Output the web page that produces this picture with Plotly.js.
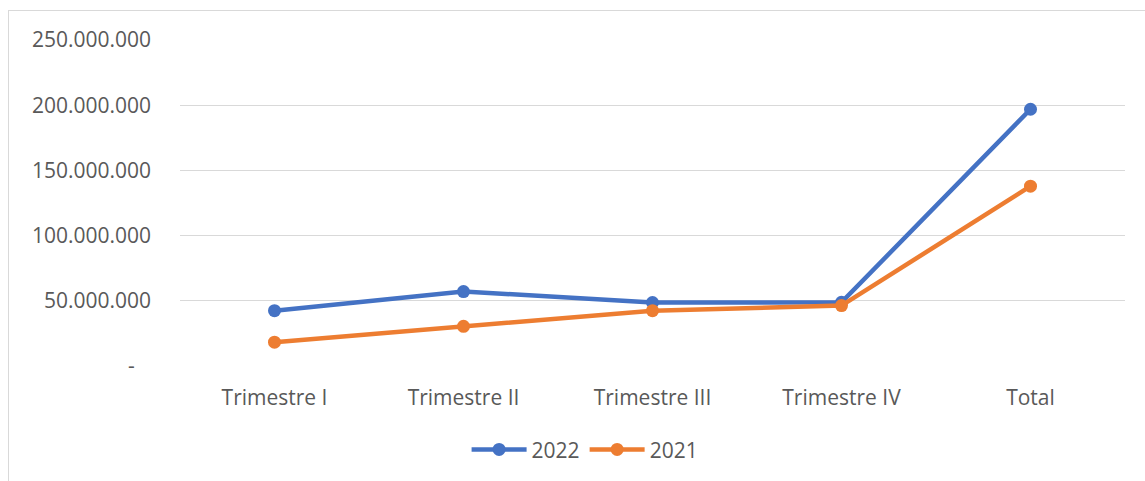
<!DOCTYPE html>
<html>
<head>
<meta charset="utf-8">
<script src="https://cdn.plot.ly/plotly-3.0.1.min.js"></script>
<style>
  html, body { margin: 0; padding: 0; background: #fff; overflow: hidden; }
  #chart { position: absolute; left: 0; top: 0; width: 1145px; height: 481px; }
  #frame { position: absolute; left: 8px; top: 10px; width: 1140px; height: 480px;
           border: 1px solid #d9d9d9; pointer-events: none; box-sizing: border-box; }
</style>
</head>
<body>
<div id="chart"></div>
<div id="frame"></div>
<script>
const categories = ["Trimestre I", "Trimestre II", "Trimestre III", "Trimestre IV", "Total"];
const values2022 = [42400000, 57100000, 48700000, 48800000, 196900000];
const values2021 = [18300000, 30400000, 42400000, 46300000, 137900000];
const tickVals = [0, 50000000, 100000000, 150000000, 200000000, 250000000];
const tickLabels = ["-\u00a0\u00a0\u00a0", "50.000.000", "100.000.000", "150.000.000", "200.000.000", "250.000.000"];

const fontFam = '"Open Sans", "Noto Sans", sans-serif';

const traces = [
  { x: categories, y: values2022, name: "2022", type: "scatter", mode: "lines+markers",
    line: { color: "#4472C4", width: 4.5 }, marker: { color: "#4472C4", size: 13 } },
  { x: categories, y: values2021, name: "2021", type: "scatter", mode: "lines+markers",
    line: { color: "#ED7D31", width: 4.5 }, marker: { color: "#ED7D31", size: 13 } }
];

const layout = {
  width: 1145, height: 481,
  margin: { l: 180, r: 20, t: 40, b: 115 },
  paper_bgcolor: "#ffffff", plot_bgcolor: "#ffffff",
  font: { family: fontFam, size: 21, color: "#595959" },
  showlegend: true,
  legend: { orientation: "h", xref: "container", x: 0.511, xanchor: "center",
            yref: "container", y: 0.065, yanchor: "middle",
            font: { family: fontFam, size: 21, color: "#595959" }, itemwidth: 55 },
  xaxis: { type: "category", range: [-0.5, 4.5], showgrid: false, zeroline: false, showline: false,
           ticks: "", ticklabelstandoff: 17, tickfont: { size: 21, color: "#595959" }, fixedrange: true },
  yaxis: { range: [0, 250000000], tickmode: "array", tickvals: tickVals, ticktext: tickLabels,
           showgrid: true, gridcolor: "#d9d9d9", gridwidth: 1.3, zeroline: false, showline: false,
           ticks: "", ticklabelstandoff: 28, tickfont: { size: 21, color: "#595959" }, fixedrange: true }
};

Plotly.newPlot("chart", traces, layout, { displayModeBar: false, staticPlot: true });
</script>
</body>
</html>
